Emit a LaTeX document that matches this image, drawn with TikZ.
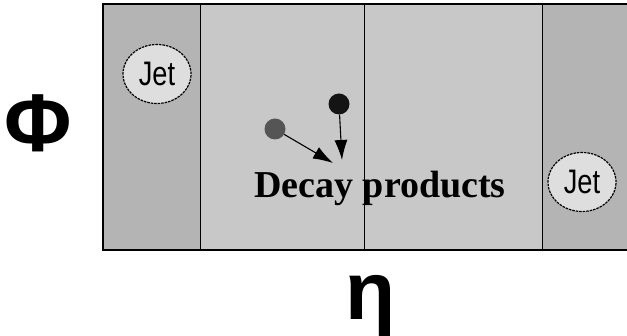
\documentclass[tikz,border=0pt]{standalone}
\usepackage{fontspec}
\setmainfont{Liberation Serif}
\newfontfamily\lsans{Liberation Sans}
\usetikzlibrary{arrows.meta,shapes.geometric}
\definecolor{bandout}{RGB}{180,180,180}
\definecolor{bandin}{RGB}{200,200,200}
\definecolor{jetfill}{RGB}{222,222,222}
\definecolor{dotgrey}{RGB}{85,85,85}
\definecolor{dotblack}{RGB}{20,20,20}
\tikzset{
  jetnode/.style={ellipse, draw=black, dash pattern=on 2.5pt off 1pt, line width=1.2pt, fill=jetfill,
    minimum width=68pt, minimum height=59pt, inner sep=0pt,
    font=\lsans\fontsize{34}{34}\selectfont},
  dotnode/.style={circle, inner sep=0pt, minimum size=21pt},
  decayarrow/.style={draw=black, line width=1.1pt, -{Latex[length=20pt,width=13pt]}},
  bigsym/.style={anchor=base, inner sep=0pt, font=\lsans\bfseries\fontsize{82}{82}\selectfont},
  divider/.style={draw=black, line width=1pt}
}
\begin{document}
\begin{tikzpicture}[x=1pt,y=-1pt]
\useasboundingbox (0,0) rectangle (627,336);
\fill[white] (0,0) rectangle (627,336);
% bands
\fill[bandout] (103,4) rectangle (200,250);
\fill[bandin] (200,4) rectangle (542,250);
\fill[bandout] (542,4) rectangle (630,250);
\draw[divider] (200,4) -- (200,250);
\draw[divider] (364,4) -- (364,250);
\draw[divider] (542,4) -- (542,250);
\draw[black, line width=1.3pt] (630,4) -- (103,4) -- (103,250) -- (630,250);
% jets
\node[jetnode] (jet1) at (157,74) {\scalebox{0.8}[1]{Jet}};
\node[jetnode] (jet2) at (582,182) {\scalebox{0.8}[1]{Jet}};
% decay particles
\node[dotnode, fill=dotgrey] (pgrey) at (275,129) {};
\node[dotnode, fill=dotblack] (pblack) at (339,104) {};
\coordinate (tip1) at (333,163);
\coordinate (tip2) at (342,160);
\draw[decayarrow] (pgrey) -- (tip1);
\draw[decayarrow] (pblack) -- (tip2);
\node[anchor=base, inner sep=0pt, font=\bfseries\fontsize{38}{38}\selectfont] (decay) at (380,198) {Decay products};
% axis labels
\node[bigsym] (phi) at (38,152) {Φ};
\node[bigsym] (eta) at (371,320) {η};
\end{tikzpicture}
\end{document}
